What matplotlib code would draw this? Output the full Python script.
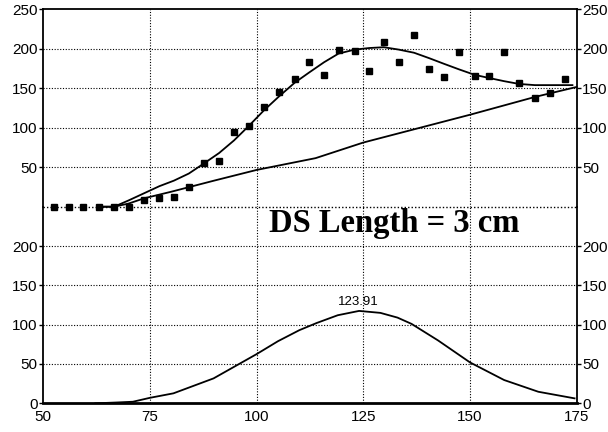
import matplotlib
matplotlib.use("Agg")
import matplotlib.pyplot as plt

# measured points (top panel)
meas_x = [52.5, 56.0, 59.4, 63.1, 66.6, 70.0, 73.6, 77.2, 80.6, 84.1, 87.7, 91.2,
          94.7, 98.1, 101.7, 105.3, 108.9, 112.3, 115.8, 119.2, 123.0, 126.4, 129.8,
          133.3, 136.9, 140.5, 143.9, 147.4, 151.1, 154.5, 158.0, 161.5, 165.2,
          168.7, 172.3]
meas_y = [0, 0, 0, 0, 0, 0, 8.5, 11, 12.7, 25.4, 55, 58, 95, 101.6, 125.8, 144.9,
          161.9, 183.9, 166.5, 199, 197.4, 172.4, 208.4, 183.5, 216.9, 174.1, 163.9,
          196.2, 166.1, 166.1, 196.2, 156.8, 137.7, 144.1, 161.9]

# fitted curve (top panel)
fit_x = [63, 66.6, 70, 73.6, 77.2, 80.6, 84.1, 87.7, 91.2, 94.7, 98.1, 101.7, 105.3,
         108.9, 112.3, 115.8, 119.2, 123.0, 126.4, 129.8, 133.3, 136.9, 140.5, 143.9,
         147.4, 151.1, 154.5, 158.0, 161.5, 165.2, 168.7, 172.3, 174.0]
fit_y = [0, 0, 8, 17, 26, 33, 42, 55, 68, 84, 102, 122, 140, 157, 170, 183, 194, 199,
         201, 202, 199, 195, 188, 181, 174, 167, 163, 159, 155.5, 154, 154, 154, 154]

# baseline trend (top panel)
base_x = [63, 66.6, 70, 73.6, 80, 90, 100, 113.8, 125, 150, 165.2, 175]
base_y = [0, 0, 4, 10.6, 19, 33, 46.6, 61.5, 81.3, 116.5, 139, 151.7]

# peak curve (bottom panel)
peak_x = [62.2, 67, 71, 75, 80.5, 89.9, 100, 105, 110, 114, 119, 124, 129, 133,
          136.3, 142.5, 150, 158, 166, 174.5]
peak_y = [0, 1, 2, 7, 12.7, 31.7, 62.6, 79, 93, 102, 112, 117.5, 115, 109, 101,
          80, 52, 29.6, 14.7, 6.3]
peak_pos = 123.91
peak_label_y = 121

plt.rcParams['font.family'] = ['Liberation Sans', 'DejaVu Sans']

fig = plt.figure(figsize=(6.08, 4.32), dpi=100)
left, width = 43.3 / 608, 533.4 / 608
ax_bot = fig.add_axes([left, 0.0664, width, 0.4551])
ax_top = fig.add_axes([left, 0.5215, width, 0.4569])
ax_top.patch.set_visible(False)

grid_kw = dict(color='black', linestyle=(0, (1, 1.5)), linewidth=0.8)

for ax in (ax_top, ax_bot):
    ax.set_xlim(50, 175)
    ax.set_ylim(0, 250)
    ax.set_xticks([50, 75, 100, 125, 150, 175])
    ax.tick_params(axis='y', left=True, right=True, labelleft=True, labelright=True,
                   direction='out', length=3, width=1, pad=1, labelsize=11)
    ax.tick_params(axis='x', length=0, pad=5, labelsize=11)
    for x in [75, 100, 125, 150]:
        ax.axvline(x, **grid_kw, zorder=0)
    for s in ax.spines.values():
        s.set_linewidth(1.3)

# top panel
ax_top.set_yticks([50, 100, 150, 200, 250])
ax_top.tick_params(axis='x', labelbottom=False)
ax_top.spines['bottom'].set_visible(False)
for y in [50, 100, 150, 200]:
    ax_top.axhline(y, **grid_kw, zorder=0)
ax_top.plot(meas_x, meas_y, 's', color='black', markersize=4.6, zorder=3, clip_on=False)
ax_top.plot(fit_x, fit_y, color='black', linewidth=1.3, zorder=2, clip_on=False)
ax_top.plot(base_x, base_y, color='black', linewidth=1.3, zorder=2, clip_on=False)

# bottom panel
ax_bot.set_yticks([0, 50, 100, 150, 200])
ax_bot.spines['top'].set_visible(False)
ax_bot.spines['bottom'].set_linewidth(2)
for y in [50, 100, 150, 200]:
    ax_bot.axhline(y, **grid_kw, zorder=0)
# boundary between the panels
ax_bot.axhline(250, color='black', linestyle=(0, (1, 1.5)), linewidth=1.0,
               clip_on=False, zorder=0)
ax_bot.plot(peak_x, peak_y, color='black', linewidth=1.3, zorder=2)
ax_bot.text(peak_pos, peak_label_y, f"{peak_pos:.2f}", ha='center', va='bottom',
            fontsize=9.5)
ax_bot.text(102.97, 218.2, "DS Length = 3 cm", ha='left', va='baseline',
            fontsize=23.5, fontweight='bold', family=['Liberation Serif', 'DejaVu Serif'])

fig.savefig("out.png", dpi=100)
